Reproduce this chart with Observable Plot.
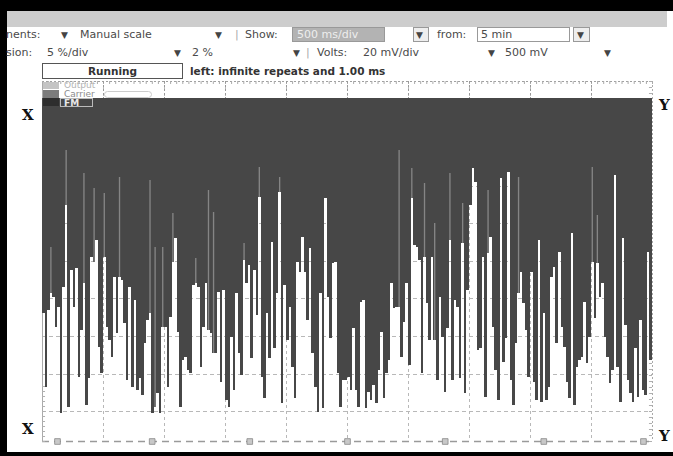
<!DOCTYPE html>
<html><head><meta charset="utf-8">
<script src="https://cdn.jsdelivr.net/npm/d3@7"></script>
<script src="https://cdn.jsdelivr.net/npm/@observablehq/plot@0.6"></script>
<style>
html,body{margin:0;padding:0;background:#fff;}
#wrap{position:relative;width:673px;height:456px;overflow:hidden;background:#fff;font-family:"DejaVu Sans",sans-serif;}
#wrap svg{position:absolute;left:0;top:0;}
.a{position:absolute;white-space:nowrap;font-size:11px;line-height:14px;color:#4a4a4a;}
.box{position:absolute;box-sizing:border-box;}
.arr{position:absolute;font-size:9px;line-height:14px;color:#444;}
.lg{position:absolute;white-space:nowrap;font-size:9px;line-height:8px;height:8px;}
</style></head>
<body>
<div id="wrap"></div>
<script>
// FM trace: level (above bottom line) where each column of the dark trace ends
const fmLevel = [
128,54,131,148,144,114,134,28,154,236,34,171,134,173,64,111,158,36,63,184,
179,201,94,68,184,114,101,84,164,108,164,161,118,61,154,54,141,51,63,46,
98,121,128,28,34,48,28,114,114,54,124,179,203,109,34,81,84,71,68,156,
158,154,74,114,158,111,108,88,88,149,59,151,41,34,104,51,148,88,66,181,
158,176,83,171,126,244,64,43,128,83,199,93,148,249,38,156,101,134,74,43,
179,169,204,169,121,193,88,54,29,148,33,243,144,103,178,179,68,34,61,61,
64,51,113,51,34,139,141,33,49,41,56,38,71,109,43,68,81,158,133,134,
134,84,119,158,76,243,196,194,181,68,184,138,101,184,101,61,144,104,49,113,
201,61,141,134,63,198,48,151,236,273,259,91,93,184,44,188,204,114,71,41,
263,79,103,269,61,36,98,148,169,138,111,64,169,59,41,201,39,128,41,54,
164,174,98,189,114,94,59,43,208,36,74,81,84,139,78,104,179,123,178,144,
158,104,84,58,71,266,74,39,203,116,61,48,39,93,44,121,51,46,189,81
];
const fmTop = 343;              // top of the trace band
// Carrier trace: light streaks (column index, top level)
const carrierCol = [3,9,16,20,24,30,42,44,47,51,60,65,67,79,85,93,140,145,150,154,160,165,175,187,216,218];
const carrierTop = [194,291,268,253,248,264,261,194,194,228,183,251,229,198,274,264,291,273,258,218,268,238,251,264,274,226];
// axes: 500 ms/div over 10 divisions
const timeSpan = 5000;
const xGrid = [500,1000,1500,2000,2500,3000,3500,4000,4500];
const yGrid = [30,67,105,143,180,218,255,293];
const markerT = [123,899,1699,2500,3301,4109,4926];

const colW = timeSpan / fmLevel.length;
const fm = fmLevel.map((v,i)=>({t0:i*colW, t1:(i+1)*colW, v}));
const carrier = carrierCol.map((c,k)=>({t0:c*colW, t1:(c+1)*colW, top:carrierTop[k], bottom:fmLevel[c]}));
const minorTop = d3.range(0, timeSpan+1, 50);
const rightTicks = d3.range(0, 361, 6);
const leftTicks = d3.range(0, 60, 5);

const chart = Plot.plot({
  width: 673, height: 456,
  marginLeft: 42, marginRight: 21, marginTop: 81, marginBottom: 15,
  x: {domain: [0, timeSpan], axis: null},
  y: {domain: [0, 360], axis: null},
  style: {background: "transparent"},
  marks: [
    Plot.ruleX(xGrid, {stroke: "#b8b8b8", strokeDasharray: "3,3"}),
    Plot.ruleY(yGrid, {stroke: "#b8b8b8", strokeDasharray: "4,3"}),
    Plot.ruleY([0], {stroke: "#9a9a9a", strokeWidth: 1.5, strokeDasharray: "7,5"}),
    Plot.ruleY([360], {stroke: "#a0a0a0", strokeDasharray: "2,2"}),
    Plot.ruleX(minorTop, {y1: 360, y2: 357, stroke: "#aaa"}),
    Plot.ruleX(xGrid, {y1: 360, y2: 343, stroke: "#999", strokeDasharray: "2,2"}),
    Plot.ruleX([0], {stroke: "#aaa"}),
    Plot.ruleX([timeSpan], {stroke: "#aaa", strokeDasharray: "2,2"}),
    Plot.ruleY(rightTicks, {x1: timeSpan - 25, x2: timeSpan, stroke: "#b0b0b0"}),
    Plot.ruleY(leftTicks, {x1: 0, x2: 25, stroke: "#b0b0b0"}),
    Plot.rectY(fm, {x1: "t0", x2: "t1", y1: "v", y2: fmTop, fill: "#474747", shapeRendering: "crispEdges"}),
    Plot.rectY(carrier, {x1: "t0", x2: "t1", y1: "bottom", y2: "top", fill: "#858585", insetLeft: 0.6, insetRight: 0.6}),
    Plot.dot(markerT, {x: d => d, y: 0, symbol: "square", r: 3.2, fill: "#c8c8c8", stroke: "#888", strokeWidth: 0.8})
  ]
});
const wrap = document.getElementById("wrap");
wrap.appendChild(chart);

const html = `
<div class="box" style="left:0;top:0;width:673px;height:11px;background:#000"></div>
<div class="box" style="left:0;top:0;width:7px;height:456px;background:#000"></div>
<div class="box" style="left:0;top:452px;width:673px;height:4px;background:#000"></div>
<div class="box" style="left:7px;top:11px;width:660px;height:16px;background:#cdcdcd"></div>

<span class="a" style="left:6px;top:28px">nents:</span>
<span class="arr" style="left:61px;top:28px">▼</span>
<span class="a" style="left:80px;top:28px">Manual scale</span>
<span class="arr" style="left:215px;top:28px">▼</span>
<span class="a" style="left:235px;top:28px;color:#aaa">|</span>
<span class="a" style="left:245px;top:28px">Show:</span>
<div class="box" style="left:292px;top:27px;width:93px;height:15px;background:#b3b3b3;border:1px solid #999"></div>
<span class="a" style="left:297px;top:28px;color:#eee">500 ms/div</span>
<div class="box" style="left:413px;top:27px;width:16px;height:15px;background:#eee;border:1px solid #999"></div>
<span class="arr" style="left:416px;top:28px">▼</span>
<span class="a" style="left:437px;top:28px">from:</span>
<div class="box" style="left:477px;top:27px;width:93px;height:15px;background:#fff;border:1px solid #999"></div>
<span class="a" style="left:481px;top:28px">5 min</span>
<div class="box" style="left:573px;top:27px;width:17px;height:15px;background:#eee;border:1px solid #999"></div>
<span class="arr" style="left:577px;top:28px">▼</span>

<span class="a" style="left:6px;top:46px">sion:</span>
<span class="a" style="left:47px;top:46px">5 %/div</span>
<span class="arr" style="left:174px;top:46px">▼</span>
<span class="a" style="left:192px;top:46px">2 %</span>
<span class="arr" style="left:293px;top:46px">▼</span>
<span class="a" style="left:306px;top:46px;color:#aaa">|</span>
<span class="a" style="left:317px;top:46px">Volts:</span>
<span class="a" style="left:363px;top:46px">20 mV/div</span>
<span class="arr" style="left:488px;top:46px">▼</span>
<span class="a" style="left:505px;top:46px">500 mV</span>
<span class="arr" style="left:604px;top:46px">▼</span>

<div class="box" style="left:42px;top:63px;width:141px;height:16px;border:1px solid #555;background:#fff"></div>
<span class="a" style="left:42px;top:64px;width:141px;text-align:center;font-weight:bold;color:#333;font-size:10.5px">Running</span>
<span class="a" style="left:190px;top:64px;font-weight:bold;color:#333;font-size:10.5px">left: infinite repeats and 1.00 ms</span>

<div class="box" style="left:43px;top:82px;width:16px;height:7px;background:#c4c4c4"></div>
<span class="lg" style="left:64px;top:81px;color:#b4b4b4">Output</span>
<div class="box" style="left:43px;top:90px;width:16px;height:8px;background:#7c7c7c"></div>
<span class="lg" style="left:64px;top:90px;color:#8c8c8c">Carrier</span>
<div class="box" style="left:104px;top:91px;width:48px;height:7px;border:1px solid #ccc;border-radius:6px"></div>
<div class="box" style="left:43px;top:98px;width:16px;height:8px;background:#2e2e2e"></div>
<div class="box" style="left:60px;top:98px;width:33px;height:9px;border:1px solid #bbb"></div>
<span class="lg" style="left:64px;top:99px;font-weight:bold;color:#e8e8e8">FM</span>

<span class="a" style="left:22px;top:106px;font-family:'DejaVu Serif',serif;font-weight:bold;font-size:15px;line-height:18px;color:#111">X</span>
<span class="a" style="left:22px;top:420px;font-family:'DejaVu Serif',serif;font-weight:bold;font-size:15px;line-height:18px;color:#111">X</span>
<span class="a" style="left:659px;top:96px;font-family:'DejaVu Serif',serif;font-weight:bold;font-size:15px;line-height:18px;color:#111">Y</span>
<span class="a" style="left:659px;top:427px;font-family:'DejaVu Serif',serif;font-weight:bold;font-size:15px;line-height:18px;color:#111">Y</span>
`;
wrap.insertAdjacentHTML("beforeend", html);
</script>
</body></html>
